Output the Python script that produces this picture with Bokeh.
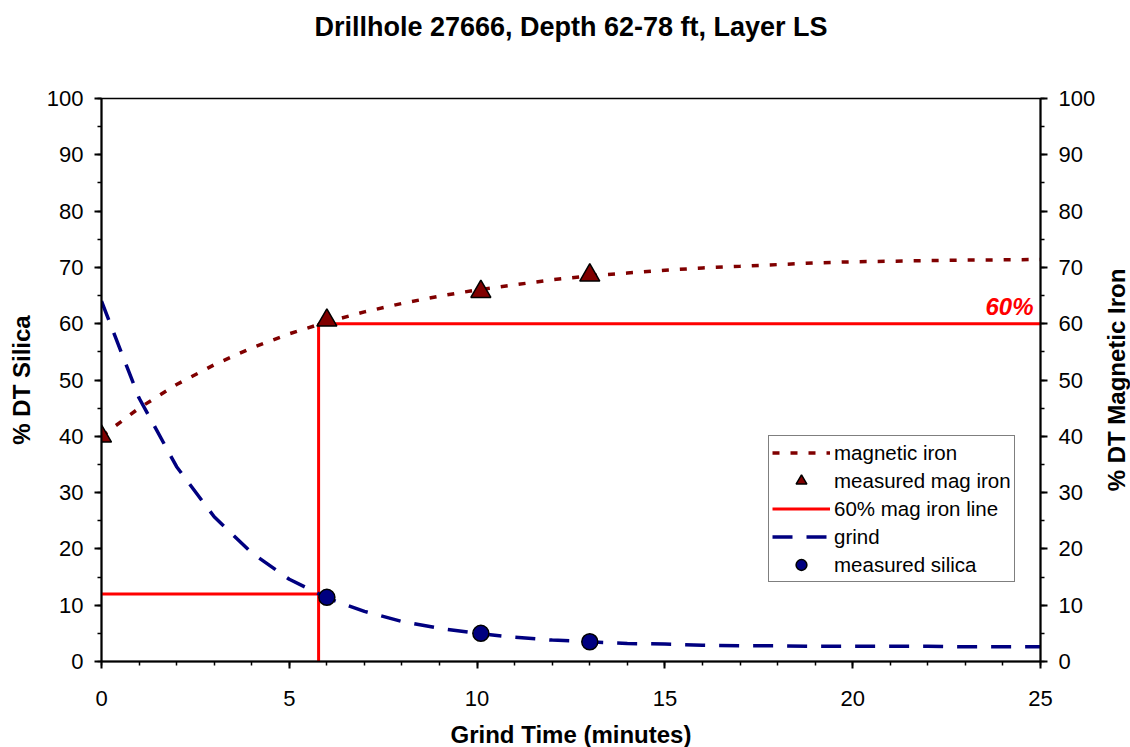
from bokeh.plotting import figure
from bokeh.layouts import row
from bokeh.models import (Range1d, LinearAxis, Legend, LegendItem, Label, Title, FixedTicker)
from bokeh.embed import file_html
from bokeh.resources import INLINE

# ---- data ----
grind_time = [0, 1, 2, 3, 4, 5, 6, 7, 8, 9, 10, 11, 12, 13, 14, 15, 16, 17, 18, 19, 20, 21, 22, 23, 24, 25]
grind_silica = [64.0, 46.8, 34.6, 25.7, 19.3, 14.6, 11.3, 8.9, 7.1, 5.9, 5.0, 4.3, 3.8, 3.5, 3.2, 3.1,
                2.9, 2.8, 2.8, 2.7, 2.7, 2.7, 2.7, 2.6, 2.6, 2.6]
mag_time = [0, 1, 2, 3, 4, 5, 6, 7, 8, 9, 10, 11, 12, 13, 14, 15, 16, 17, 18, 19, 20, 21, 22, 23, 24, 25]
mag_iron = [40.0, 45.0, 49.2, 52.7, 55.7, 58.2, 60.3, 62.1, 63.6, 64.9, 66.0, 66.9, 67.8, 68.5, 69.0,
            69.5, 69.9, 70.2, 70.5, 70.8, 71.0, 71.1, 71.2, 71.3, 71.35, 71.4]
meas_mag_time = [0, 6, 10.1, 13]
meas_mag_iron = [40.0, 60.6, 65.7, 68.6]
meas_sil_time = [6, 10.1, 13]
meas_silica = [11.4, 5.0, 3.5]
line60_time = [0, 5.78, 5.78, 5.78, 25]
line60_value = [12, 12, 0, 60, 60]
x_ticks = [0, 5, 10, 15, 20, 25]
x_minor = list(range(0, 26))
y_ticks = [0, 10, 20, 30, 40, 50, 60, 70, 80, 90, 100]
y_minor = list(range(0, 101, 5))
title_text = "Drillhole 27666, Depth 62-78 ft, Layer LS"
right_label = "% DT Magnetic Iron"

FONT = "Liberation Sans"
FW, FH = 939, 563
TOP, BOTTOM = 98, 86

p = figure(frame_width=FW, frame_height=FH, output_backend="svg", toolbar_location=None,
           x_range=Range1d(0, 25), y_range=Range1d(0, 100), title=None,
           min_border_left=101, min_border_right=60, min_border_top=TOP, min_border_bottom=BOTTOM)
# blank spacer title (nearest the frame) pushes the real title up
p.add_layout(Title(text=" ", text_font_size="10px", standoff=44), "above")
p.add_layout(Title(text=title_text, align="center", vertical_align="bottom", standoff=0,
                   text_font=FONT, text_font_size="27px", text_font_style="bold",
                   text_color="black"), "above")
p.background_fill_color = "white"
p.border_fill_color = "white"
p.outline_line_color = "black"
p.outline_line_width = 1.5
p.xgrid.visible = False
p.ygrid.visible = False

p.extra_y_ranges = {"right": Range1d(0, 100)}
raxis = LinearAxis(y_range_name="right")
p.add_layout(raxis, "right")

for ax in [p.xaxis[0], p.yaxis[0], raxis]:
    ax.axis_line_color = "black"
    ax.axis_line_width = 2
    ax.major_tick_line_color = "black"
    ax.major_tick_line_width = 2
    ax.minor_tick_line_color = "black"
    ax.minor_tick_line_width = 1.5
    ax.major_tick_in = 0
    ax.major_tick_out = 7
    ax.minor_tick_in = 0
    ax.minor_tick_out = 4
    ax.major_label_text_font = FONT
    ax.major_label_text_font_size = "22px"
    ax.major_label_text_color = "black"
    ax.axis_label_text_font = FONT
    ax.axis_label_text_font_size = "24px"
    ax.axis_label_text_font_style = "bold"
    ax.axis_label_text_color = "black"
    ax.major_label_standoff = 11

p.xaxis[0].ticker = FixedTicker(ticks=x_ticks, minor_ticks=x_minor)
p.yaxis[0].ticker = FixedTicker(ticks=y_ticks, minor_ticks=y_minor)
raxis.ticker = FixedTicker(ticks=y_ticks, minor_ticks=y_minor)
p.xaxis[0].axis_label = "Grind Time (minutes)"
p.yaxis[0].axis_label = "% DT Silica"
p.xaxis[0].major_label_standoff = 22
p.xaxis[0].axis_label_standoff = 12
p.yaxis[0].axis_label_standoff = 9

# ---- glyphs ----
r_line60 = p.line(line60_time, line60_value, line_color="#FF0000", line_width=3)
r_mag = p.line(mag_time, mag_iron, line_color="#800000", line_width=3.5, line_dash="7 11")
r_grind = p.line(grind_time, grind_silica, line_color="#000080", line_width=3.5, line_dash="20 14")
r_mmag = p.scatter(meas_mag_time, meas_mag_iron, marker="triangle", size=20,
                   fill_color="#800000", line_color="black", line_width=1.5)
r_msil = p.scatter(meas_sil_time, meas_silica, marker="circle", size=16,
                   fill_color="#000080", line_color="black", line_width=1.5)

lab = Label(x=25, y=60, x_offset=-7, y_offset=4, text="60%", text_align="right",
            text_baseline="bottom", text_color="#FF0000", text_font=FONT,
            text_font_size="24px", text_font_style="bold italic")
p.add_layout(lab)

legend = Legend(items=[
    LegendItem(label="magnetic iron", renderers=[r_mag]),
    LegendItem(label="measured mag iron", renderers=[r_mmag]),
    LegendItem(label="60% mag iron line", renderers=[r_line60]),
    LegendItem(label="grind", renderers=[r_grind]),
    LegendItem(label="measured silica", renderers=[r_msil]),
], location=(667, 79))
legend.border_line_color = "black"
legend.border_line_width = 1.5
legend.background_fill_color = "white"
legend.background_fill_alpha = 1
legend.padding = 3
legend.spacing = 1
legend.margin = 0
legend.glyph_height = 27
legend.glyph_width = 58
legend.label_height = 27
legend.label_width = 177
legend.label_standoff = 4
legend.label_text_font = FONT
legend.label_text_font_size = "20.5px"
legend.label_text_color = "black"
p.add_layout(legend)

# ---- narrow companion panel carrying the right-hand axis title (reads bottom-to-top) ----
p2 = figure(width=30, frame_height=FH, output_backend="svg", toolbar_location=None,
            x_range=Range1d(0, 1), y_range=Range1d(0, 1),
            min_border_left=0, min_border_right=0, min_border_top=TOP, min_border_bottom=BOTTOM)
p2.axis.visible = False
p2.xgrid.visible = False
p2.ygrid.visible = False
p2.outline_line_color = None
p2.background_fill_color = "white"
p2.border_fill_color = "white"
p2.title = None
p2.add_layout(Title(text=right_label, align="center", vertical_align="bottom", standoff=0,
                    text_font=FONT, text_font_size="24px", text_font_style="bold",
                    text_color="black"), "left")

layout = row(p, p2, spacing=0)
open("out.html", "w").write(file_html(layout, INLINE))
